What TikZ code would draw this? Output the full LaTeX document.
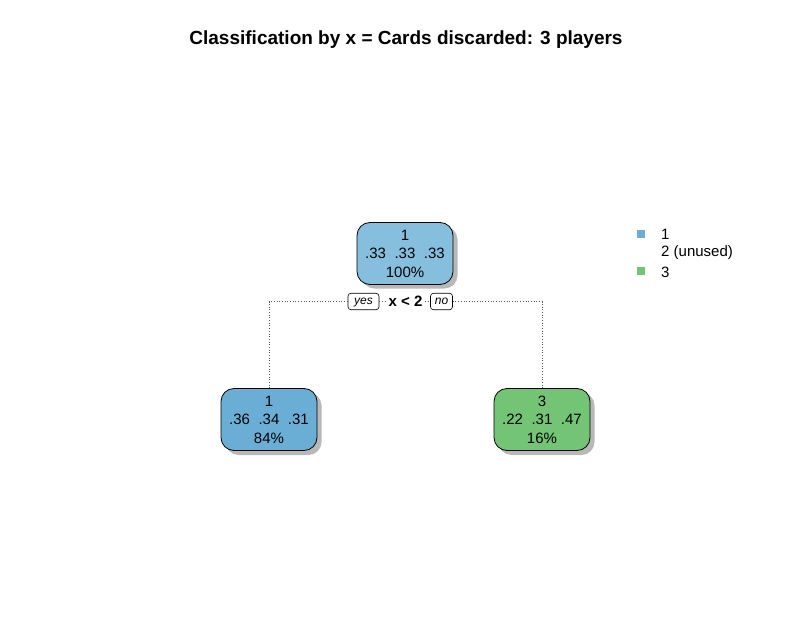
\documentclass[tikz,border=0pt]{standalone}
\usepackage{fontspec}
\setmainfont{Liberation Sans}
\usetikzlibrary{shadows}
\definecolor{rootblue}{HTML}{86BFDD}
\definecolor{leafblue}{HTML}{6AAED6}
\definecolor{leafgreen}{HTML}{74C476}
\newcommand{\gp}{\hspace{8.5bp}}
\tikzset{
  treebox/.style={draw=black, line width=0.8bp, rounded corners=13bp, minimum width=96bp, minimum height=62bp, inner sep=0pt, align=center, font=\fontsize{15bp}{18.5bp}\selectfont},
  boxshadow/.style={fill=black!28, rounded corners=13bp},
  lab/.style={draw=black, fill=white, line width=0.6bp, rounded corners=3bp, minimum height=16.5bp, inner sep=1.5bp, text height=6.2bp, text depth=0pt, font=\fontsize{12bp}{12bp}\selectfont\itshape},
  splitlab/.style={fill=white, inner sep=2.5bp, font=\fontsize{15bp}{15bp}\selectfont\bfseries},
  branch/.style={dotted, line width=0.7bp, black!65},
  legsq/.style={fill=#1, minimum size=8bp, inner sep=0pt},
  legtxt/.style={anchor=west, inner sep=0pt, font=\fontsize{15bp}{15bp}\selectfont}
}
\begin{document}
\begin{tikzpicture}[x=1bp,y=-1bp]
\useasboundingbox (0,0) rectangle (811,622);
\node[font=\fontsize{19bp}{19bp}\selectfont\bfseries] (title) at (406,40) {Classification by x = Cards discarded: 3 players};
% shadows
\fill[boxshadow] (361.5,226.5) rectangle (457.5,288.5);
\fill[boxshadow] (225.5,392.5) rectangle (321.5,455);
\fill[boxshadow] (498.5,392.5) rectangle (594.5,455);
% nodes
\node[treebox, fill=rootblue] (root) at (405,253.5) {1\\.33\gp.33\gp.33\\100\%};
\node[treebox, fill=leafblue] (left) at (269,419.5) {1\\.36\gp.34\gp.31\\84\%};
\node[treebox, fill=leafgreen] (right) at (542,419.5) {3\\.22\gp.31\gp.47\\16\%};
% split labels
\node[lab, minimum width=31bp] (yes) at (363.5,301.5) {yes};
\node[splitlab] (split) at (405.5,301.5) {x < 2};
\node[lab, minimum width=22bp] (no) at (441.5,301.5) {no};
% branches
\draw[branch] (left.north) |- (yes.west);
\draw[branch] (yes.east) -- (split.west);
\draw[branch] (split.east) -- (no.west);
\draw[branch] (no.east) -| (right.north);
% legend
\node[legsq=leafblue] (sq1) at (640.5,234) {};
\node[legtxt] (t1) at (661,234) {1};
\node[legtxt] (t2) at (661,253) {2 (unused)};
\node[legsq=leafgreen] (sq3) at (640.5,271) {};
\node[legtxt] (t3) at (661,272) {3};
\end{tikzpicture}
\end{document}
